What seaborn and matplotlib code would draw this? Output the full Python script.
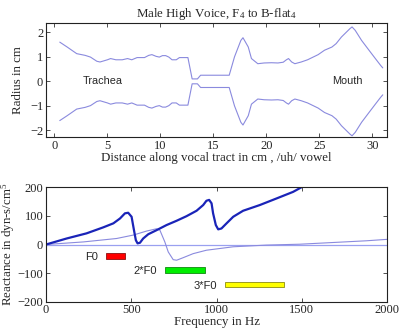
import numpy as np
import pandas as pd
import matplotlib
matplotlib.use("Agg")
import matplotlib.pyplot as plt
import seaborn as sns

# ---- data: vocal tract radius profile (upper wall; lower wall is its mirror)
dist_cm = [0.5, 1.2, 2.1, 2.9, 3.4, 4.0, 4.3, 5.0, 5.3, 5.8, 6.4, 6.9, 7.3, 7.8, 8.5,
           8.9, 9.2, 9.6, 9.9, 10.2, 10.5, 10.8, 11.1, 11.5, 11.8, 12.1, 12.6, 13.0,
           13.5, 13.8, 16.5, 17.0, 17.6, 17.8, 18.3, 18.6, 19.2, 19.8, 20.5, 21.1,
           21.6, 21.9, 22.1, 22.4, 22.7, 23.3, 23.9, 24.9, 25.5, 26.2, 26.6, 27.1,
           27.9, 28.1, 28.4, 29.0, 29.7, 30.3, 30.8, 31.0]
radius_cm = [1.6, 1.4, 1.13, 1.06, 0.99, 0.82, 0.79, 0.88, 0.93, 0.88, 0.88, 0.93, 0.88,
             0.97, 0.97, 1.06, 1.09, 1.02, 0.99, 1.05, 1.05, 0.99, 0.88, 0.88, 0.97,
             0.97, 0.97, 0.1, 0.1, 0.25, 0.25, 1.0, 1.67, 1.78, 1.4, 0.93, 0.72, 0.75,
             0.76, 0.75, 0.78, 0.88, 0.93, 0.79, 0.72, 0.79, 0.88, 1.09, 1.27, 1.4,
             1.54, 1.81, 2.15, 2.22, 2.08, 1.67, 1.27, 0.93, 0.65, 0.55]

# ---- data: reactance curves
freq_thick = [0, 121, 238, 336, 395, 434, 463, 482, 502, 516, 527, 537, 551, 570, 600,
              648, 707, 766, 824, 883, 922, 941, 957, 971, 980, 996, 1010, 1029, 1059,
              1098, 1156, 1254, 1352, 1449, 1498]
react_thick = [0, 21, 39, 60, 74, 91, 109, 111, 97, 50, 15, 4, 6, 21, 36, 50, 68, 83,
               99, 118, 138, 153, 156, 144, 109, 68, 53, 56, 74, 97, 118, 138, 161,
               184, 200]
freq_thin = [0, 219, 414, 512, 590, 648, 668, 697, 717, 746, 766, 805, 863, 941, 1098,
             1293, 1488, 1684, 1879, 2000]
react_thin = [0, 9, 21, 33, 47, 55, 50, 9, -26, -53, -55, -46, -32, -20, -8, -2, 1, 7,
              13, 18]

# ---- data: harmonic ranges (F4 to B-flat4)
band_labels = ["F0", "2*F0", "3*F0"]
band_low = [349, 698, 1047]
band_high = [466, 932, 1398]
band_colors = ["#ff0000", "#00ee00", "#ffff00"]
band_edges = ["#8a1010", "#108a10", "#8a8a10"]

sns.set_theme(style="white")
plt.rcParams["font.family"] = ["Liberation Serif", "DejaVu Serif"]
plt.rcParams["mathtext.fontset"] = "custom"
plt.rcParams["mathtext.rm"] = "Liberation Serif"
plt.rcParams["mathtext.it"] = "Liberation Serif:italic"

fig = plt.figure(figsize=(4.0, 3.32), dpi=100)
ax1 = fig.add_axes([0.115, 0.5873, 0.8525, 0.3434])
ax2 = fig.add_axes([0.115, 0.0913, 0.8525, 0.3445])

LBL = 9.3
thin_c = "#8a8ade"
df_r = pd.DataFrame({"x": dist_cm, "r": radius_cm})
df_r["neg"] = -df_r["r"]
sns.lineplot(data=df_r, x="x", y="r", ax=ax1, color=thin_c, lw=0.8, estimator=None, sort=False)
sns.lineplot(data=df_r, x="x", y="neg", ax=ax1, color=thin_c, lw=0.8, estimator=None, sort=False)
ax1.set_xlim(-0.8, 31.4)
ax1.set_ylim(-2.27, 2.38)
ax1.set_xticks(range(0, 31, 5))
ax1.set_yticks([-2, -1, 0, 1, 2])
ax1.set_xlabel("Distance along vocal tract in cm , /uh/ vowel", fontsize=LBL, labelpad=0)
ax1.set_ylabel("Radius in cm", fontsize=LBL, labelpad=4)
ax1.set_title("Male High Voice, F$_4$ to B-flat$_4$", fontsize=LBL, pad=4)
ax1.text(2.7, 0, "Trachea", family="Liberation Sans", fontsize=7.8, va="center", ha="left")
ax1.text(26.2, 0, "Mouth", family="Liberation Sans", fontsize=7.8, va="center", ha="left")

df_a = pd.DataFrame({"f": freq_thick, "x": react_thick})
df_b = pd.DataFrame({"f": freq_thin, "x": react_thin})
ax2.axhline(0, color="#9aa0f0", lw=0.9)
sns.lineplot(data=df_b, x="f", y="x", ax=ax2, color=thin_c, lw=0.8, estimator=None, sort=False)
sns.lineplot(data=df_a, x="f", y="x", ax=ax2, color="#1a24b8", lw=1.6, estimator=None, sort=False)
for i, (lab, lo, hi, c, e) in enumerate(zip(band_labels, band_low, band_high, band_colors, band_edges)):
    top = -30 - 50 * i
    ax2.bar(lo, -20, width=hi - lo, bottom=top, align="edge", color=c,
            edgecolor=e, lw=0.6)
    ax2.text(lo - 45, top - 14, lab, family="Liberation Sans", fontsize=8,
             ha="right", va="center")
ax2.set_xlim(0, 2000)
ax2.set_ylim(-200, 200)
ax2.set_xticks([0, 500, 1000, 1500, 2000])
ax2.set_yticks([-200, -100, 0, 100, 200])
ax2.set_xlabel("Frequency in Hz", fontsize=LBL, labelpad=0)
ax2.set_ylabel("Reactance in dyn-s/cm$^5$", fontsize=LBL, labelpad=0)

for ax in (ax1, ax2):
    ax.tick_params(direction="in", length=3, width=0.6, labelsize=9, pad=2,
                   top=True, right=True, bottom=True, left=True, color="#333333")
    for s in ax.spines.values():
        s.set_color("#222222")
        s.set_linewidth(0.8)
    ax.set_facecolor("white")

fig.savefig("out.png", dpi=100)
